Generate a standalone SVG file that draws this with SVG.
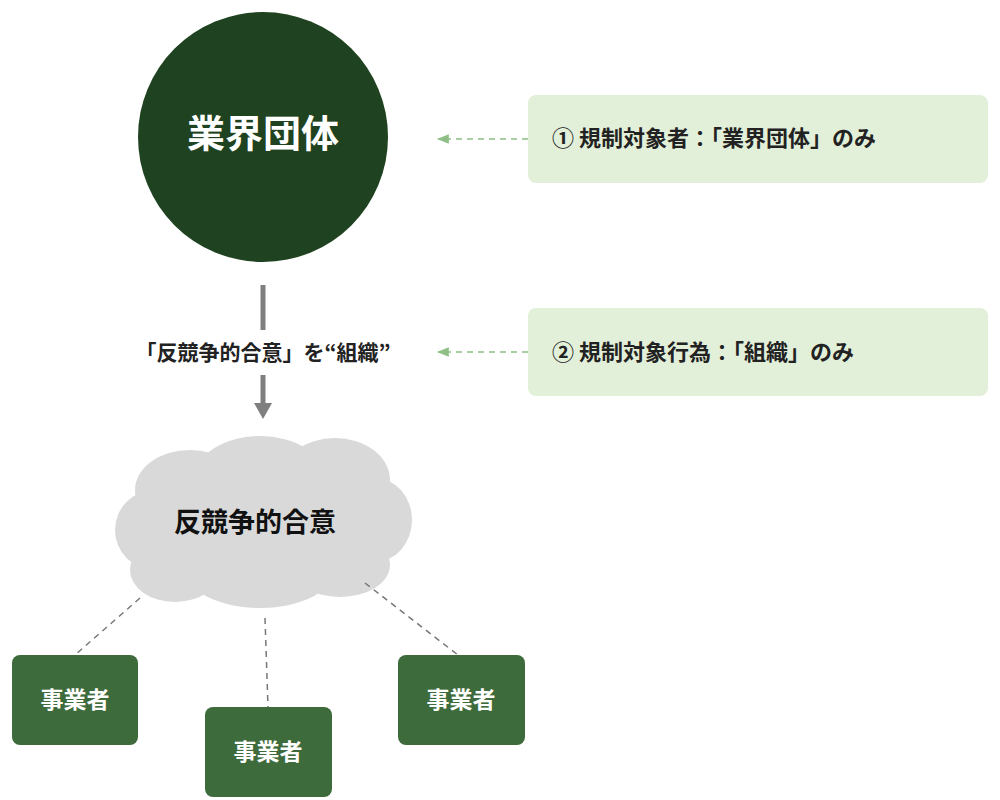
<svg xmlns="http://www.w3.org/2000/svg" width="1000" height="800" viewBox="0 0 1000 800">
<style>
text{font-family:"Noto Sans CJK JP","Noto Sans",sans-serif;font-weight:bold;}
.note{fill:#e2f0d9;}
.nt{font-size:22px;fill:#222;}
.biz{fill:#3e6b3c;}
.bt{font-size:23px;fill:#fff;text-anchor:middle;}
.dg{stroke:#8fbf86;stroke-width:1.5;stroke-dasharray:6 5;fill:none;}
.dk{stroke:#777;stroke-width:1.5;stroke-dasharray:6 5;fill:none;}
</style>
<defs>
<marker id="ga" viewBox="0 0 10 10" refX="9" refY="5" markerWidth="8" markerHeight="8" orient="auto-start-reverse"><path d="M0,1 L10,5 L0,9 z" fill="#8fbf86"/></marker>
</defs>
<rect width="1000" height="800" fill="#fff"/>
<g id="n-dantai"><circle cx="263" cy="137" r="125" fill="#1f4220"/><text x="263" y="147" font-size="38" fill="#fff" text-anchor="middle">業界団体</text></g>
<g id="n-note1"><rect class="note" x="528" y="95" width="460" height="88" rx="8"/><text class="nt" x="552" y="146">① 規制対象者：「業界団体」のみ</text></g>
<g id="n-note2"><rect class="note" x="528" y="308" width="460" height="88" rx="8"/><text class="nt" x="552" y="360">② 規制対象行為：「組織」のみ</text></g>
<g id="n-label"><text x="263" y="360" font-size="21" fill="#222" text-anchor="middle">「反競争的合意」を“組織”</text></g>
<g id="n-cloud" fill="#d9d9d9">
<ellipse cx="190" cy="490" rx="55" ry="40"/><ellipse cx="260" cy="478" rx="65" ry="42"/><ellipse cx="335" cy="480" rx="55" ry="42"/>
<ellipse cx="375" cy="520" rx="37" ry="42"/><ellipse cx="155" cy="530" rx="40" ry="40"/><ellipse cx="175" cy="570" rx="45" ry="32"/>
<ellipse cx="260" cy="575" rx="70" ry="33"/><ellipse cx="340" cy="565" rx="50" ry="32"/><ellipse cx="263" cy="525" rx="120" ry="50"/>
<text x="255" y="532" font-size="27" fill="#111" text-anchor="middle">反競争的合意</text></g>
<g id="n-b1"><rect class="biz" x="12" y="655" width="126" height="90" rx="8"/><text class="bt" x="75" y="708">事業者</text></g>
<g id="n-b2"><rect class="biz" x="205" y="707" width="127" height="90" rx="8"/><text class="bt" x="268" y="760">事業者</text></g>
<g id="n-b3"><rect class="biz" x="398" y="655" width="127" height="90" rx="8"/><text class="bt" x="461" y="708">事業者</text></g>
<g id="connectors">
<line x1="263" y1="285" x2="263" y2="330" stroke="#7f7f7f" stroke-width="5"/>
<line x1="263" y1="375" x2="263" y2="404" stroke="#7f7f7f" stroke-width="5"/>
<path d="M254,403 L272,403 L263,419 z" fill="#7f7f7f"/>
<line class="dg" x1="528" y1="139" x2="438" y2="139" marker-end="url(#ga)"/>
<line class="dg" x1="528" y1="352" x2="438" y2="352" marker-end="url(#ga)"/>
<line class="dk" x1="140" y1="598" x2="75" y2="655"/>
<line class="dk" x1="265" y1="618" x2="268" y2="707"/>
<line class="dk" x1="365" y1="583" x2="458" y2="655"/>
</g>
</svg>
